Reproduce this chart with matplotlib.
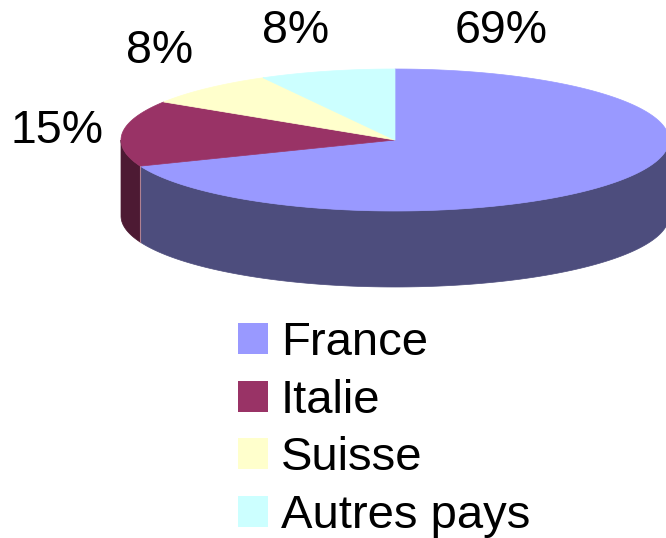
import numpy as np
import matplotlib
matplotlib.use("Agg")
import matplotlib.pyplot as plt
from matplotlib.patches import Polygon, Patch

plt.rcParams['font.family'] = ['Liberation Sans', 'DejaVu Sans']

categories = ["France", "Italie", "Suisse", "Autres pays"]
values = [69, 15, 8, 8]
pct_labels = ["69%", "15%", "8%", "8%"]
top_colors = ["#9999FF", "#993366", "#FFFFCC", "#CCFFFF"]
side_colors = ["#4D4D7D", "#4D1A33", "#80806A", "#6A8080"]

# layout (pixel units)
W, H = 666, 538
cx, cy, a, b, depth = 395, 140, 274, 71, 76
label_pos = [(501, 31), (57, 131), (160, 51), (296, 31)]

fig = plt.figure(figsize=(W / 100, H / 100), dpi=100)
ax = fig.add_axes([0, 0, 1, 1])
ax.set_xlim(0, W)
ax.set_ylim(H, 0)
ax.axis('off')

total = sum(values)
angles = [90.0]
for v in values:
    angles.append(angles[-1] - 360.0 * v / total)

def pt(theta_deg, dy=0.0):
    t = np.deg2rad(theta_deg)
    return cx + a * np.cos(t), cy - b * np.sin(t) + dy

# side walls (front-facing part)
for i in range(len(values)):
    start, end = angles[i], angles[i + 1]
    for lo_f, hi_f in [(-180, 0), (180, 360), (-540, -360)]:
        lo = max(end, lo_f)
        hi = min(start, hi_f)
        if hi > lo:
            th = np.linspace(lo, hi, 200)
            xs, ys = pt(th)
            xb, yb = pt(th[::-1], depth)
            poly = np.column_stack([np.concatenate([xs, xb]), np.concatenate([ys, yb])])
            ax.add_patch(Polygon(poly, closed=True, facecolor=side_colors[i],
                                 edgecolor=side_colors[i], linewidth=0.5))

for i in range(1, len(values)):
    th = angles[i] % 360
    if 180 < th < 360:
        x0, y0 = pt(th)
        ax.plot([x0, x0], [y0, y0 + depth], color="#B08090", linewidth=0.8)

# top faces
for i in range(len(values)):
    th = np.linspace(angles[i], angles[i + 1], 300)
    xs, ys = pt(th)
    poly = np.column_stack([np.concatenate([[cx], xs]), np.concatenate([[cy], ys])])
    ax.add_patch(Polygon(poly, closed=True, facecolor=top_colors[i],
                         edgecolor=top_colors[i], linewidth=0.5))

for lab, (x, y) in zip(pct_labels, label_pos):
    ax.text(x, y, lab, fontsize=33.5, ha='center', va='center', color='black')

handles = [Patch(facecolor=c, edgecolor='none') for c in top_colors]
leg = fig.legend(handles, categories, loc='upper left',
                 bbox_to_anchor=(238 / W, 1 - 321 / H), frameon=False,
                 fontsize=34, handlelength=0.635, handleheight=0.635,
                 handletextpad=0.27, labelspacing=0.29, borderpad=0, borderaxespad=0)

fig.savefig("out.png", dpi=100)
